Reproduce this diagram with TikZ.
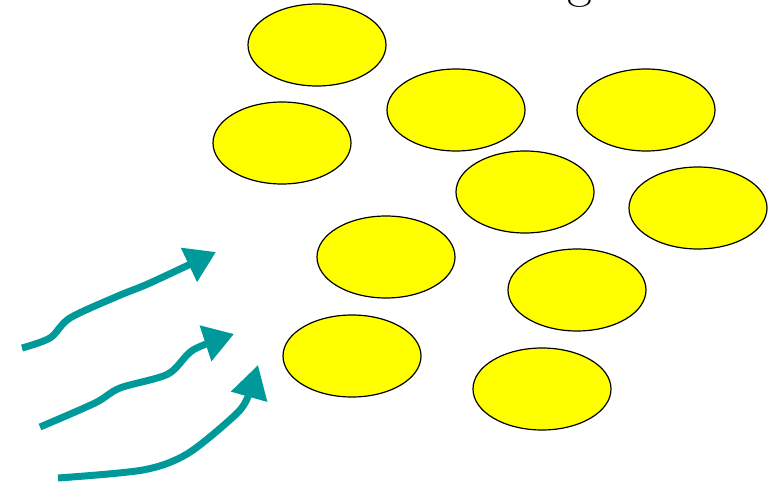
\documentclass[tikz,border=0pt]{standalone}
\usetikzlibrary{arrows.meta}
\definecolor{teal}{RGB}{0,153,153}
\definecolor{blobyellow}{RGB}{255,255,0}
\begin{document}
\begin{tikzpicture}[x=1pt, y=-1pt]
            \useasboundingbox (0,0) rectangle (779,487);
            \node[anchor=base, inner sep=0pt, font=\fontsize{54}{60}\selectfont] (title) at (580,-3) {g};
            \draw[fill=blobyellow, line width=1.2pt] (317,45) ellipse (69 and 41);
            \draw[fill=blobyellow, line width=1.2pt] (456,110) ellipse (69 and 41);
            \draw[fill=blobyellow, line width=1.2pt] (646,110) ellipse (69 and 41);
            \draw[fill=blobyellow, line width=1.2pt] (282,143) ellipse (69 and 41);
            \draw[fill=blobyellow, line width=1.2pt] (525,192) ellipse (69 and 41);
            \draw[fill=blobyellow, line width=1.2pt] (698,208) ellipse (69 and 41);
            \draw[fill=blobyellow, line width=1.2pt] (386,257) ellipse (69 and 41);
            \draw[fill=blobyellow, line width=1.2pt] (577,290) ellipse (69 and 41);
            \draw[fill=blobyellow, line width=1.2pt] (352,356) ellipse (69 and 41);
            \draw[fill=blobyellow, line width=1.2pt] (542,389) ellipse (69 and 41);
            \draw[teal, line width=7pt, -{Triangle[length=30pt, width=36pt]}] plot[smooth, tension=0.5] coordinates {(22,348) (50,338) (70,318) (118,296) (150,283) (216,252)};
            \draw[teal, line width=7pt, -{Triangle[length=30pt, width=36pt]}] plot[smooth, tension=0.5] coordinates {(40,427) (95,403) (120,388) (168,374) (193,350) (234,334)};
            \draw[teal, line width=7pt, -{Triangle[length=33pt, width=36pt]}] plot[smooth, tension=0.5] coordinates {(58,478) (143,470) (187,454) (233,417) (247,399) (258,365)};
        \end{tikzpicture}
\end{document}
